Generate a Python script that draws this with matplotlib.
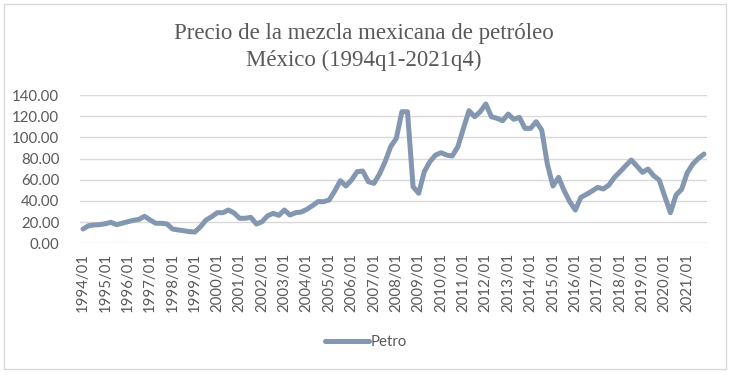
import matplotlib
matplotlib.use("Agg")
import matplotlib.pyplot as plt
from matplotlib.patches import Rectangle

title_lines = ["Precio de la mezcla mexicana de petróleo", "México (1994q1-2021q4)"]
series_name = "Petro"
years = list(range(1994, 2022))
tick_labels = [f"{y}/01" for y in years]
y_ticks = [0, 20, 40, 60, 80, 100, 120, 140]

# Quarterly values 1994q1 .. 2021q4 (112 quarters)
petro = [
    13.5, 16.6, 17.3, 17.6,   # 1994
    18.5, 19.8, 17.6, 18.9,   # 1995
    20.4, 21.7, 22.6, 25.5,   # 1996
    22.0, 18.9, 18.9, 18.3,   # 1997
    13.5, 12.6, 11.9, 11.0,   # 1998
    10.7, 15.7, 22.0, 25.1,   # 1999
    28.9, 28.9, 31.4, 28.6,   # 2000
    23.6, 23.6, 24.5, 18.2,   # 2001
    20.4, 26.0, 28.3, 26.4,   # 2002
    31.4, 26.7, 28.9, 29.5,   # 2003
    32.0, 35.5, 39.3, 39.3,   # 2004
    40.9, 49.4, 59.1, 54.1,   # 2005
    59.7, 67.6, 68.2, 58.2,   # 2006
    56.6, 65.4, 77.0, 91.3,   # 2007
    99.0, 124.2, 124.2, 53.4, # 2008
    47.2, 67.6, 77.0, 83.3,   # 2009
    85.5, 83.3, 82.4, 91.2,   # 2010
    108.5, 125.2, 119.5, 124.2, # 2011
    131.5, 119.5, 118.0, 115.7, # 2012
    122.0, 117.0, 118.9, 108.5, # 2013
    108.5, 114.8, 106.9, 74.7,  # 2014
    54.1, 62.3, 49.7, 39.3,   # 2015
    31.4, 43.4, 46.2, 49.4,   # 2016
    52.8, 51.3, 55.0, 62.3,   # 2017
    67.6, 73.2, 78.6, 72.9,   # 2018
    67.0, 70.1, 63.8, 59.7,   # 2019
    44.0, 28.9, 45.6, 51.0,   # 2020
    66.6, 74.8, 80.2, 84.3,   # 2021
]

W, H = 732, 375
fig = plt.figure(figsize=(W / 100, H / 100), dpi=100)
fig.patch.set_facecolor("white")

# chart-area border
fig.add_artist(Rectangle((4 / W, 1 - 369 / H), (726 - 4) / W, (369 - 4) / H,
                         transform=fig.transFigure, fill=False,
                         edgecolor="#d9d9d9", linewidth=1.0))

left, right = 80.2 / W, 706.8 / W
bottom, top = 1 - 243.3 / H, 1 - 95.0 / H
ax = fig.add_axes([left, bottom, right - left, top - bottom])

x = list(range(len(petro)))
line, = ax.plot(x, petro, color="#8497b0", linewidth=3.6,
                solid_joinstyle="round", solid_capstyle="round", label=series_name)

ax.set_xlim(-0.5, len(petro) - 0.5)
ax.set_ylim(0, 140)
ax.set_yticks(y_ticks)
ax.set_yticklabels([f"{v:.2f}" for v in y_ticks])
ax.set_xticks([4 * i for i in range(len(years))])
ax.set_xticklabels(tick_labels, rotation=90)

lab_family = ["Lato", "DejaVu Sans"]
lab_size = 10.8
for t in ax.get_yticklabels() + ax.get_xticklabels():
    t.set_fontfamily(lab_family)
    t.set_fontsize(lab_size)
    t.set_color("#595959")

ax.tick_params(axis="both", length=0)
ax.tick_params(axis="y", pad=15)
ax.tick_params(axis="x", pad=7)
ax.grid(axis="y", color="#d9d9d9", linewidth=1.0)
ax.set_axisbelow(True)
for s in ax.spines.values():
    s.set_visible(False)

fig.text(363.5 / W, 1 - 33 / H, title_lines[0], ha="center", va="center",
         fontsize=16.5, color="#595959", family="Liberation Serif")
fig.text(363.5 / W, 1 - 60 / H, title_lines[1], ha="center", va="center",
         fontsize=16.5, color="#595959", family="Liberation Serif")

leg = fig.legend(handles=[line], loc="center", bbox_to_anchor=(0.5, 1 - 342 / H),
                 frameon=False, handlelength=2.9, handletextpad=0.15,
                 prop=dict(family=lab_family, size=lab_size))
for t in leg.get_texts():
    t.set_color("#595959")

fig.savefig("out.png", dpi=100, facecolor="white")
